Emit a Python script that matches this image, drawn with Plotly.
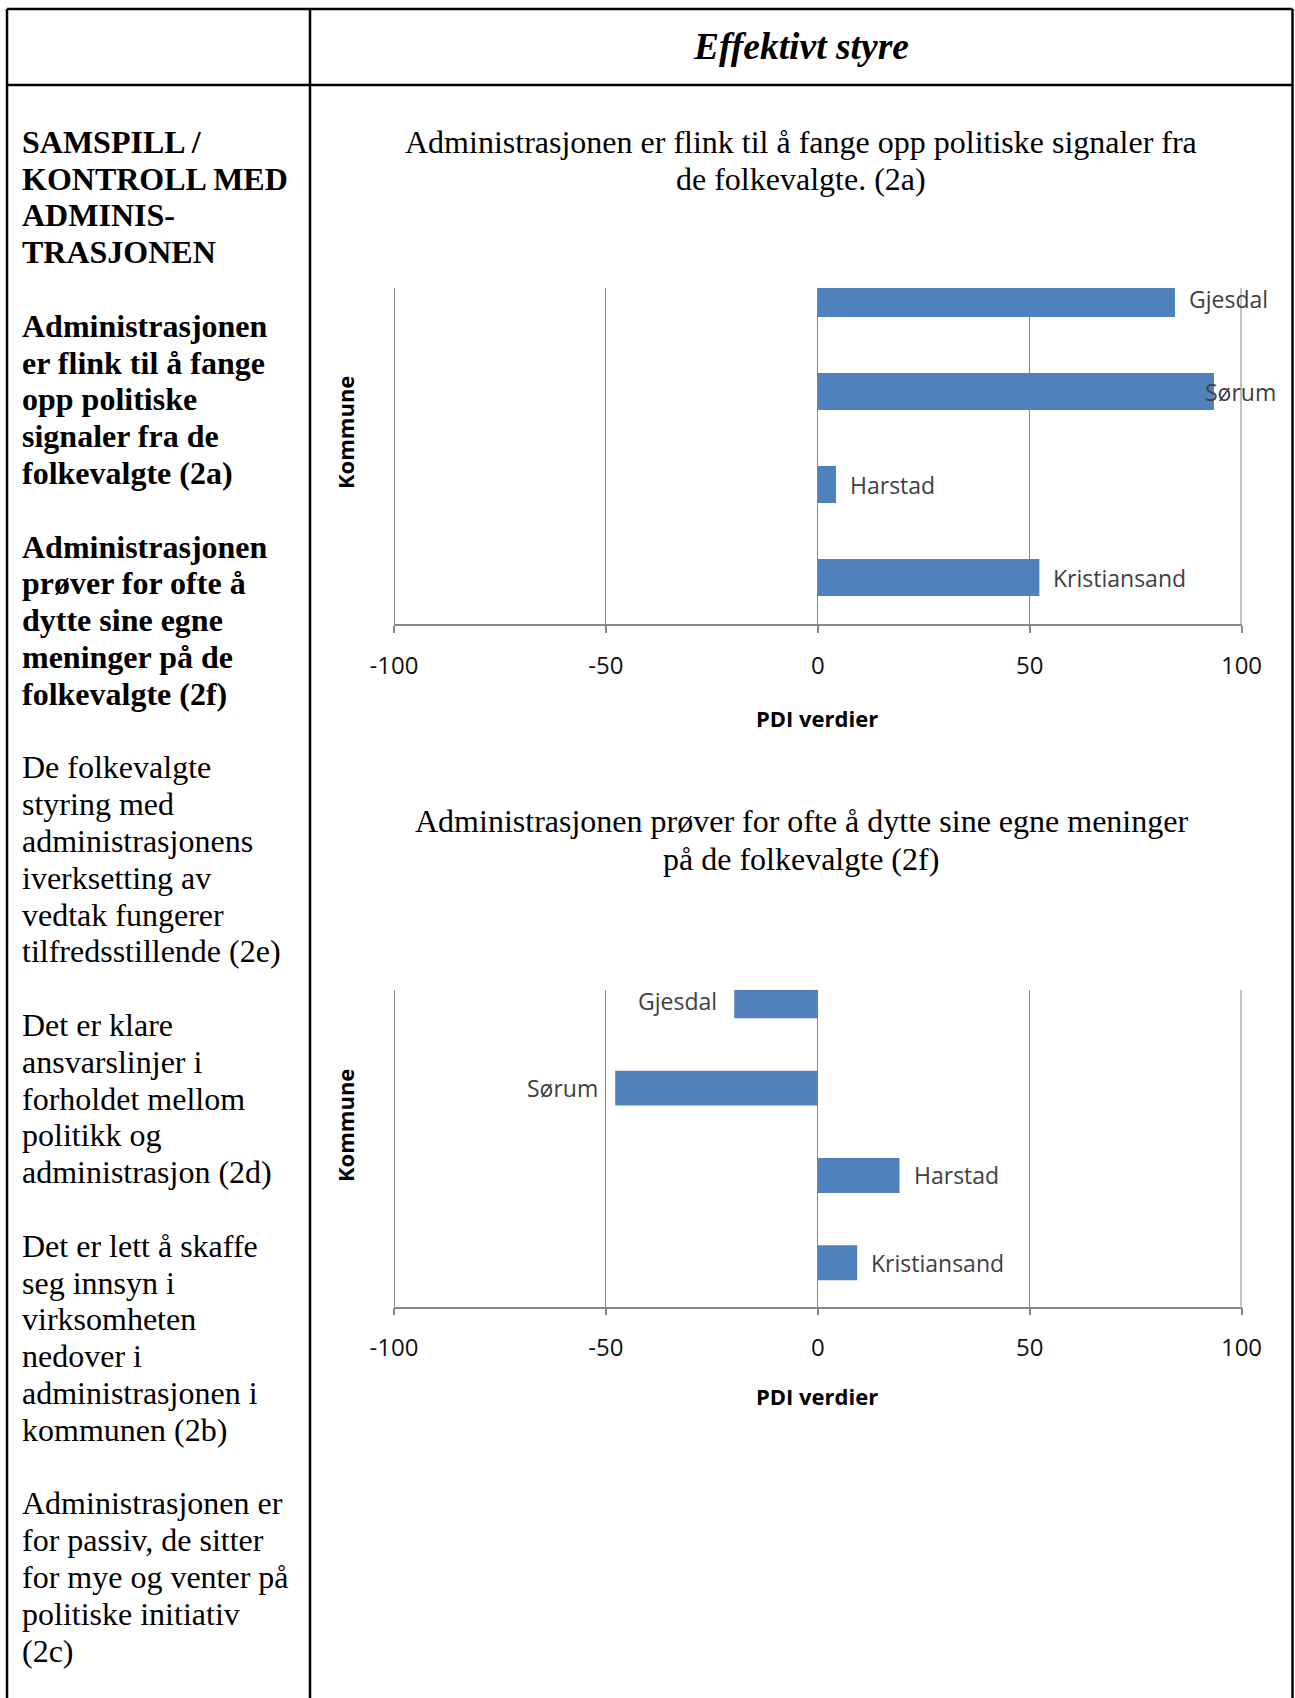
import plotly.graph_objects as go

W, H = 1295, 1698

# ---------------- data ----------------
kommuner = ["Gjesdal", "Sørum", "Harstad", "Kristiansand"]
pdi_2a = [84.3, 93.5, 4.3, 52.3]
pdi_2f = [-19.7, -47.8, 19.3, 9.3]
x_ticks = [-100, -50, 0, 50, 100]
x_tick_labels = ["-100", "-50", "0", "50", "100"]

header_title = "Effektivt styre"
title_2a = ["Administrasjonen er flink til å fange opp politiske signaler fra",
            "de folkevalgte. (2a)"]
title_2f = ["Administrasjonen prøver for ofte å dytte sine egne meninger",
            "på de folkevalgte (2f)"]
x_title = "PDI verdier"
y_title = "Kommune"

left_bold = [
    ["SAMSPILL /", "KONTROLL MED", "ADMINIS-", "TRASJONEN"],
    ["Administrasjonen", "er flink til å fange", "opp politiske",
     "signaler fra de", "folkevalgte (2a)"],
    ["Administrasjonen", "prøver for ofte å", "dytte sine egne",
     "meninger på de", "folkevalgte (2f)"],
]
left_regular = [
    ["De folkevalgte", "styring med", "administrasjonens", "iverksetting av",
     "vedtak fungerer", "tilfredsstillende (2e)"],
    ["Det er klare", "ansvarslinjer i", "forholdet mellom", "politikk og",
     "administrasjon (2d)"],
    ["Det er lett å skaffe", "seg innsyn i", "virksomheten", "nedover i",
     "administrasjonen i", "kommunen (2b)"],
    ["Administrasjonen er", "for passiv, de sitter", "for mye og venter på",
     "politiske initiativ", "(2c)"],
]

# ---------------- styles ----------------
SERIF = "Liberation Serif, Times New Roman, serif"
SANS = "Open Sans, Calibri, sans-serif"
BAR_COLOR = "#4F81BD"
GRID = "#878787"
LABEL_COLOR = "#404040"
TEXT_SIZE = 32


def px(x):
    return x / W


def py(y):
    return 1 - y / H


fig = go.Figure()

fig.add_trace(go.Bar(x=pdi_2a, y=kommuner, orientation="h",
                     marker=dict(color=BAR_COLOR, line=dict(width=0)),
                     xaxis="x", yaxis="y", hoverinfo="x+y", showlegend=False))
fig.add_trace(go.Bar(x=pdi_2f, y=kommuner, orientation="h",
                     marker=dict(color=BAR_COLOR, line=dict(width=0)),
                     xaxis="x2", yaxis="y2", hoverinfo="x+y", showlegend=False))

x_dom = [px(394), px(1241.5)]

xaxis_common = dict(
    range=[-100, 100], tickmode="array", tickvals=x_ticks, ticktext=x_tick_labels,
    showgrid=True, gridcolor=GRID,
    gridwidth=1, zeroline=True, zerolinecolor=GRID, zerolinewidth=1,
    showline=True, linecolor=GRID, linewidth=1.5, ticks="outside",
    ticklen=7, tickcolor=GRID, tickwidth=1.5,
    tickfont=dict(family=SANS, size=24, color="#111111"),
    ticklabelstandoff=12, fixedrange=True, domain=x_dom, automargin=False,
)
yaxis_common = dict(
    type="category", categoryorder="array", categoryarray=kommuner,
    showgrid=False, zeroline=False, showline=False, showticklabels=False,
    ticks="", fixedrange=True, automargin=False,
)

annotations = []
shapes = []

# header
annotations.append(dict(text=f"<b><i>{header_title}</i></b>", x=px(801), y=py(47),
                        xref="paper", yref="paper", showarrow=False,
                        xanchor="center", yanchor="middle",
                        font=dict(family=SERIF, size=37.5, color="black")))

# left column text
line_gap = 36.8
y0 = 141.8
idx = 0
for block in left_bold:
    for line in block:
        annotations.append(dict(text=f"<b>{line}</b>", x=px(20), y=py(y0 + line_gap * idx),
                                xref="paper", yref="paper", showarrow=False,
                                xanchor="left", yanchor="middle",
                                font=dict(family=SERIF, size=TEXT_SIZE, color="black")))
        idx += 1
    idx += 1
for block in left_regular:
    for line in block:
        annotations.append(dict(text=line, x=px(20), y=py(y0 + line_gap * idx),
                                xref="paper", yref="paper", showarrow=False,
                                xanchor="left", yanchor="middle",
                                font=dict(family=SERIF, size=TEXT_SIZE, color="black")))
        idx += 1
    idx += 1

# chart titles
for lines, ys in ((title_2a, (141.8, 178.7)), (title_2f, (820.8, 858.7))):
    for line, yy in zip(lines, ys):
        annotations.append(dict(text=line, x=px(801), y=py(yy),
                                xref="paper", yref="paper", showarrow=False,
                                xanchor="center", yanchor="middle",
                                font=dict(family=SERIF, size=TEXT_SIZE, color="black")))

# axis titles
for yy in (718, 1396):
    annotations.append(dict(text=f"<b>{x_title}</b>", x=px(816.5), y=py(yy),
                            xref="paper", yref="paper", showarrow=False,
                            xanchor="center", yanchor="middle",
                            font=dict(family=SANS, size=22, color="black")))
for yy in (433, 1126):
    annotations.append(dict(text=f"<b>{y_title}</b>", x=px(345), y=py(yy),
                            xref="paper", yref="paper", showarrow=False,
                            xanchor="center", yanchor="middle", textangle=-90,
                            font=dict(family=SANS, size=22, color="black")))

# data labels (category names beside bar ends)
for vals, xr, yr in ((pdi_2a, "x", "y"), (pdi_2f, "x2", "y2")):
    for name, v in zip(kommuner, vals):
        if v > 88:
            annotations.append(dict(text=name, x=px(1278), y=name, xref="paper", yref=yr,
                                    showarrow=False, xanchor="right", yanchor="middle",
                                    font=dict(family=SANS, size=23, color=LABEL_COLOR)))
        else:
            annotations.append(dict(text=name, x=v, y=name, xref=xr, yref=yr,
                                    showarrow=False,
                                    xanchor="left" if v >= 0 else "right",
                                    xshift=12 if v >= 0 else -15, yanchor="middle",
                                    font=dict(family=SANS, size=23, color=LABEL_COLOR)))

# gridlines at the range ends (plotly omits them at the plot edges)
for xr, yr in (("x", "y"), ("x2", "y2")):
    for t in (x_ticks[0], x_ticks[-1]):
        shapes.append(dict(type="line", xref=xr, yref=f"{yr} domain",
                           x0=t, x1=t, y0=0, y1=1,
                           line=dict(color=GRID, width=2), layer="below"))

# table borders
LW = 2.5
table_lines = [
    (7, 9, 1292.5, 9),        # top
    (7, 85, 1292.5, 85),      # under header
    (7, 9, 7, H + 5),         # left
    (310, 9, 310, H + 5),     # divider
    (1292.5, 9, 1292.5, H + 5),  # right
]
for x0, ya, x1, yb in table_lines:
    shapes.append(dict(type="line", xref="paper", yref="paper",
                       x0=px(x0), y0=py(ya), x1=px(x1), y1=py(yb),
                       line=dict(color="black", width=LW)))

fig.update_layout(
    width=W, height=H, autosize=False,
    margin=dict(l=0, r=0, t=0, b=0, pad=0, autoexpand=False),
    paper_bgcolor="white", plot_bgcolor="white",
    bargap=0.6, showlegend=False,
    xaxis=dict(**xaxis_common, anchor="y"),
    yaxis=dict(**yaxis_common, domain=[py(624), py(288)], range=[3.5, -0.113], anchor="x"),
    xaxis2=dict(**xaxis_common, anchor="y2"),
    yaxis2=dict(**yaxis_common, domain=[py(1306.5), py(990)], range=[3.5, -0.123], anchor="x2"),
    annotations=annotations, shapes=shapes,
)

fig.write_html("out.html", config={"displayModeBar": False},
               post_script="document.body.style.margin='0';document.body.style.overflow='hidden';")
